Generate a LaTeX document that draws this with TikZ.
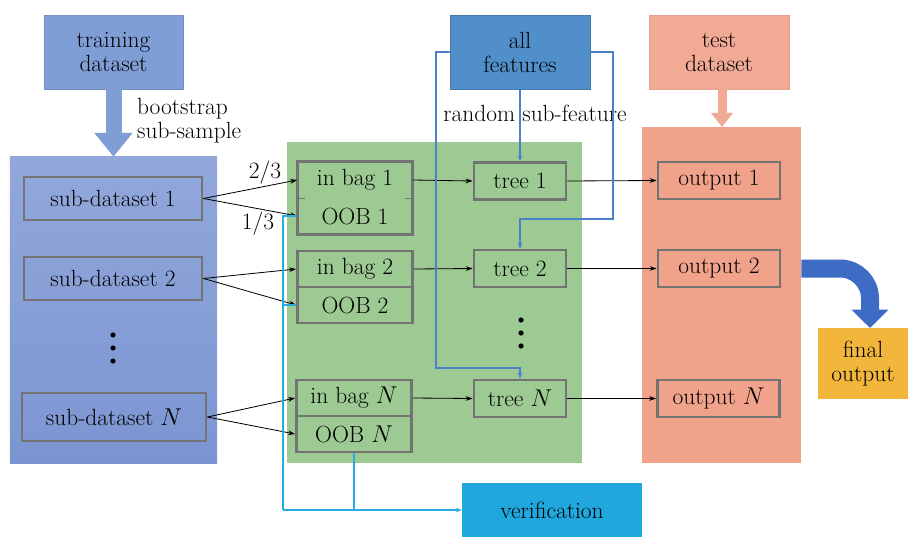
\documentclass[tikz,border=0pt]{standalone}
\usepackage{xcolor}
\usetikzlibrary{arrows.meta}

\definecolor{trainblue}{RGB}{128,158,214}
\definecolor{paneltop}{RGB}{146,168,219}
\definecolor{panelbot}{RGB}{124,149,210}
\definecolor{baggreen}{RGB}{157,201,146}
\definecolor{featblue}{RGB}{80,143,202}
\definecolor{testred}{RGB}{241,170,148}
\definecolor{outred}{RGB}{240,163,138}
\definecolor{finalorange}{RGB}{242,182,61}
\definecolor{verifcyan}{RGB}{31,167,222}
\definecolor{curveblue}{RGB}{62,108,196}
\definecolor{lineblue}{RGB}{76,128,202}
\definecolor{linecyan}{RGB}{40,171,226}
\definecolor{boxgray}{RGB}{115,115,115}

\tikzset{
  every node/.style={font=\fontsize{20}{20.5}\selectfont},
  bigbox/.style={minimum width=4.2cm, minimum height=2.22cm, align=center, inner sep=0pt},
  inbox/.style={draw=boxgray, line width=2.4pt, minimum height=1.08cm, inner sep=0pt},
  arr/.style={->, >={Stealth[length=6pt,width=4pt]}, line width=0.7pt},
  featline/.style={lineblue, line width=1pt, ->, >={Stealth[length=5pt,width=4pt]}},
  oobline/.style={linecyan, line width=1.3pt},
}

\begin{document}
\begin{tikzpicture}[x=0.03cm, y=-0.03cm]
  \useasboundingbox (0,0) rectangle (908,536);

  % panels
  \node[top color=paneltop, bottom color=panelbot, minimum width=6.21cm, minimum height=9.18cm, inner sep=0pt] (leftpanel) at (113.5,310) {};
  \node[fill=baggreen, minimum width=8.85cm, minimum height=9.63cm, inner sep=0pt] (bagpanel) at (434.5,302.5) {};
  \node[fill=outred, minimum width=4.77cm, minimum height=10.08cm, inner sep=0pt] (outpanel) at (721.5,295) {};

  % top boxes
  \node[bigbox, fill=trainblue, draw=trainblue!90!black, minimum width=4.17cm] (train) at (113.5,52) {training\\dataset};
  \node[bigbox, fill=featblue, draw=featblue!85!black] (allfeat) at (520,52) {all\\features};
  \node[bigbox, fill=testred, draw=testred!95!black] (test) at (719,52) {test\\dataset};

  \draw[trainblue, line width=0.48cm, -{Triangle[length=0.72cm,width=1.11cm]}] (train.south) -- (train.south |- leftpanel.north);
  \draw[testred, line width=0.27cm, -{Triangle[length=0.42cm,width=0.63cm]}] (722,89) -- (722,127);
  \node[anchor=west, align=left] (boot) at (133,121) {bootstrap\\sub-sample};
  \node (randsub) at (535,113) {random sub-feature};

  % sub-datasets
  \node[inbox, minimum width=5.34cm, minimum height=1.29cm] (sub1) at (113,198.5) {sub-dataset 1};
  \node[inbox, minimum width=5.34cm, minimum height=1.29cm] (sub2) at (113,278.5) {sub-dataset 2};
  \node[inbox, minimum width=5.52cm, minimum height=1.44cm] (subN) at (114,417) {sub-dataset $N$};
  \foreach \y in {335,348,361}
    \fill (113,\y) circle (2.6);

  % bags
  \node[minimum width=3.45cm, minimum height=1.08cm, inner sep=0pt] (inbag1) at (355,180) {in bag 1};
  \node[minimum width=3.45cm, minimum height=1.08cm, inner sep=0pt] (oob1) at (355,216) {OOB 1};
  \draw[boxgray, line width=2.4pt] (inbag1.north west) rectangle (oob1.south east);
  \draw[boxgray, line width=1.2pt] (inbag1.south west) -- ++(8,0) (inbag1.south east) -- ++(-8,0);
  \node[inbox, minimum width=3.45cm] (inbag2) at (355,269) {in bag 2};
  \node[inbox, minimum width=3.45cm] (oob2) at (355,305) {OOB 2};
  \node[inbox, minimum width=3.45cm] (inbagN) at (354,398) {in bag $N$};
  \node[inbox, minimum width=3.45cm] (oobN) at (354,434) {OOB $N$};

  % trees and outputs
  \node[inbox, minimum width=2.76cm, minimum height=1.11cm] (tree1) at (520,181) {tree 1};
  \node[inbox, minimum width=2.76cm, minimum height=1.11cm] (tree2) at (520,268.5) {tree 2};
  \node[inbox, minimum width=2.76cm, minimum height=1.11cm] (treeN) at (520,398.5) {tree $N$};
  \foreach \y in {320,333,346}
    \fill (521,\y) circle (2.6);
  \node[inbox, minimum width=3.66cm, minimum height=1.11cm] (out1) at (719,180.5) {output 1};
  \node[inbox, minimum width=3.66cm, minimum height=1.11cm] (out2) at (719,268.5) {output 2};
  \node[inbox, minimum width=3.66cm, minimum height=1.11cm] (outN) at (718.5,398.5) {output $N$};

  \node[fill=finalorange, minimum width=2.7cm, minimum height=2.13cm, align=center, inner sep=0pt] (final) at (863,363.5) {final\\output};
  \node[fill=verifcyan, minimum width=5.4cm, minimum height=1.62cm, inner sep=0pt] (verif) at (552,510) {verification};

  % sampling arrows
  \draw[arr] (sub1.east) -- (inbag1.west);
  \draw[arr] (sub1.east) -- (oob1.west);
  \node (r23) at (265,173) {2/3};
  \node (r13) at (258,224) {1/3};
  \draw[arr] (sub2.east) -- (inbag2.west);
  \draw[arr] (sub2.east) -- (oob2.west);
  \draw[arr] (subN.east) -- (inbagN.west);
  \draw[arr] (subN.east) -- (oobN.west);

  \draw[arr] (inbag1.east) -- (tree1.west);
  \draw[arr] (inbag2.east) -- (tree2.west);
  \draw[arr] (inbagN.east) -- (treeN.west);
  \draw[arr] (tree1.east) -- (out1.west);
  \draw[arr] (tree2.east) -- (out2.west);
  \draw[arr] (treeN.east) -- (outN.west);

  % feature lines
  \coordinate (fleft) at (436,368);
  \coordinate (fright) at (613,219);
  \draw[featline] (allfeat.south) -- (tree1.north);
  \draw[featline] (allfeat.west) -| (fleft) -| (treeN.north);
  \draw[featline] (allfeat.east) -| (fright) -| (tree2.north);

  % oob to verification
  \coordinate (vleft) at (283,510);
  \draw[oobline] (oob1.west) -| (vleft);
  \draw[oobline] (oob2.west) -- (oob2.west -| vleft);
  \draw[oobline] (oobN.south) -- (oobN.south |- vleft);
  \draw[oobline, ->, >={Stealth[length=5pt,width=4pt]}] (vleft) -- (verif.west);

  % to final output
  \coordinate (fin) at (870,328);
  \draw[curveblue, line width=0.54cm, rounded corners=0.9cm, -{Triangle[length=0.55cm,width=1.08cm]}] (outpanel.east |- out2.east) -| (fin);
\end{tikzpicture}
\end{document}
